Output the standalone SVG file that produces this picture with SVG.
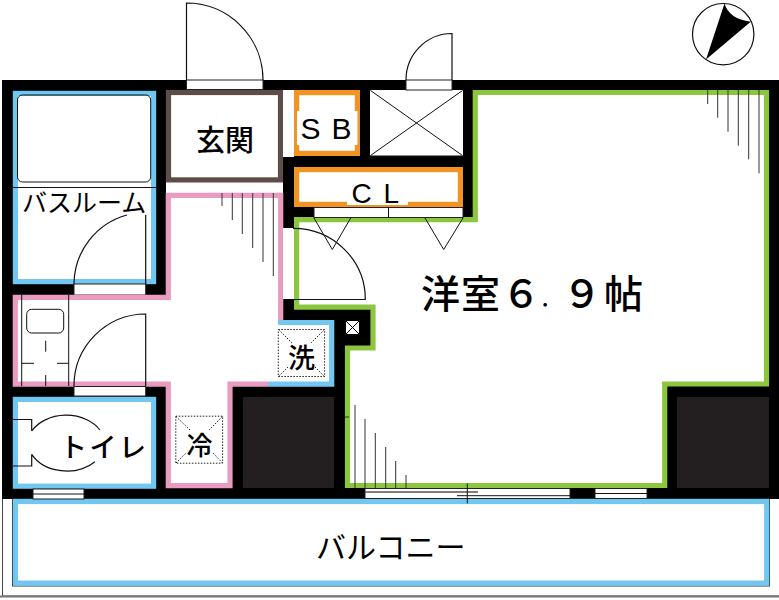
<svg xmlns="http://www.w3.org/2000/svg" width="779" height="600" viewBox="0 0 779 600">
<style>
.t{font-family:"Noto Sans CJK JP","Noto Sans",sans-serif;fill:#000;font-weight:500}
.r{font-weight:400}
.l{font-family:"Liberation Sans",sans-serif;fill:#000}
.thin{fill:none;stroke:#111;stroke-width:1}
.door{fill:none;stroke:#111;stroke-width:1.2}
.win{fill:#fff;stroke:#222;stroke-width:1}
.ray{fill:none;stroke:#333;stroke-width:1}
.w{fill:#fff}
.blue{fill:none;stroke:#71c7f0;stroke-width:5.2}
.pink{fill:none;stroke:#ea9bc0;stroke-width:5.2}
.green{fill:none;stroke:#8cc63f;stroke-width:5.2}
.orange{fill:#fff;stroke:#f39321;stroke-width:5.2}
.dot{fill:#fff;stroke:#222;stroke-width:1;stroke-dasharray:1.5 1.5}
.dl{fill:none;stroke:#222;stroke-width:1;stroke-dasharray:1.5 1.5}
</style>
<rect width="779" height="600" fill="#fff"/>
<g id="outline">
<path d="M2.5,499V596H779" fill="none" stroke="#444" stroke-width="1"/>
<path d="M0,596.5H779" stroke="#777" stroke-width="2"/>
<rect x="2" y="80" width="777" height="419" fill="#000"/>
</g>
<g id="balcony">
<rect x="12.5" y="499" width="757" height="87" fill="#fff" stroke="#234" stroke-width="1"/>
<rect x="15.4" y="501.5" width="751.3" height="81.6" class="blue"/>
<text class="t r" x="316" y="558" font-size="30">バルコニー</text>
</g>
<g id="entrance">
<rect x="166" y="90" width="117" height="103" fill="#fff"/>
<rect x="168.5" y="92.5" width="112" height="87.4" fill="#fff" stroke="#5d4c47" stroke-width="5.2"/>
<text class="t" x="196" y="151" font-size="29">玄関</text>
<rect class="win" x="186.5" y="80" width="76.5" height="9.5"/>
<path class="door" d="M186.5,80V3A76.5,77 0 0 1 263,80"/>
</g>
<g id="bath">
<rect x="15.4" y="93.4" width="138.2" height="188.2" class="w"/>
<rect x="15.4" y="93.4" width="138.2" height="188.2" class="blue"/>
<rect class="thin" x="17.5" y="95" width="133.2" height="87" rx="5"/>
<path class="thin" d="M13,187.5H156"/>
<rect class="win" x="74" y="284" width="71.7" height="11"/>
<path class="door" d="M145.7,215V284M74,284A72,72 0 0 1 127,215"/>
<text class="t r" x="22" y="212" font-size="25">バスルーム</text>
</g>
<g id="hall">
<path d="M15.3,297.3H168.3V195.3H280.7V322.5H331.7V383.9H230V485.7H168.3V384.2H15.3Z" fill="#fff"/>
<path class="pink" d="M268,384.2H230V485.7H168.3V384.2H15.3V297.3H168.3V195.3H280.7V323"/>
<path class="blue" d="M278.1,322.5H331.7V384.2H268"/>
<path class="ray" d="M222,193V206M232.3,193V220M242.3,193V234M252.7,193V248M263,193V262M273.3,193V276"/>
<path class="thin" d="M21.7,295V386M68.7,295V386M45.7,340.7V351.7M45.7,375V386M21.7,363.3H34M57,363.3H68.7"/>
<rect class="thin" x="26.7" y="309.3" width="37" height="23.7" rx="5"/>
<rect class="win" x="74" y="386.5" width="71.7" height="9.5"/>
<path class="door" d="M145.7,386V314A72,72 0 0 0 74,386"/>
<rect class="dot" x="175.8" y="416.2" width="46.8" height="47"/>
<path class="dl" d="M176,416.5L190,430M222.5,416.5L209,430M176,463L186,453M222.5,463L213,453"/>
<text class="t" x="199.5" y="455" font-size="26" text-anchor="middle">冷</text>
<rect class="dot" x="278.3" y="329.5" width="46.3" height="47"/>
<path class="dl" d="M278.5,329.5L292,343M324.5,329.5L311,343M278.5,376.5L288,367M324.5,376.5L315,367"/>
<text class="t" x="301.5" y="368" font-size="27" text-anchor="middle">洗</text>
</g>
<g id="toilet">
<rect x="15.4" y="399.4" width="138.2" height="86.8" class="w"/>
<rect x="15.4" y="399.4" width="138.2" height="86.8" class="blue"/>
<path class="door" d="M13,419.5H31.7V431M31.7,454.3V466H13M31.7,431A40,32 0 0 1 100,430M31.7,454.3A40,32 0 0 0 95,461.7"/>
<rect class="win" x="33" y="489" width="51" height="10"/>
<path class="thin" d="M33,494H84"/>
<text class="t" x="60" y="457" font-size="27" letter-spacing="2.5">トイレ</text>
</g>
<g id="storage-sb">
<rect x="283" y="90" width="11" height="67" fill="#fff"/>
<rect class="orange" x="296.6" y="92.6" width="60.8" height="60.8"/>
<rect x="297" y="111" width="60.5" height="34" fill="#fff"/>
<text class="l" x="300.5" y="138.5" font-size="30" letter-spacing="1.3">S B</text>
</g>
<g id="shaft">
<rect x="370" y="90" width="93" height="66" fill="#fff"/>
<path class="thin" d="M370.5,90.5L462.5,155.5M462.5,90.5L370.5,155.5M370,156H463"/>
<rect class="win" x="406" y="80" width="46" height="10"/>
<path class="door" d="M452,80V33.5A46,46.5 0 0 0 406,80"/>
</g>
<g id="closet">
<rect class="orange" x="296.6" y="169.6" width="163.8" height="34.8"/>
<rect x="347" y="180" width="61" height="25" fill="#fff"/>
<text class="l" x="351.5" y="202.5" font-size="28" letter-spacing="2">C L</text>
</g>
<g id="room">
<path d="M475.3,92.5H766.5V384H664.7V485.5H347.5V348H373V307.2H296.6V219.7H475.3Z" fill="#fff"/>
<path class="green" d="M475.3,92.5H766.5V384H664.7V485.5H347.5V348H373V307.2H296.6V219.7H475.3Z"/>
<rect x="283" y="228" width="11" height="71" fill="#fff"/>
<rect class="win" x="314" y="207.5" width="149" height="10"/>
<path class="thin" d="M388.5,207V218M314,218L332.3,249.5L350.7,218M425,218L443.7,249.5L463,218"/>
<path class="door" d="M293,228.3A72,71 0 0 1 365.3,299.5H293"/>
<path class="ray" d="M707.7,90V104M717.7,90V117.7M728,90V131.7M738.3,90V145.7M748.7,90V159.3M759,90V173.3"/>
<path class="ray" d="M355,405V488M365,419V488M375.3,433V488M385.7,447V488M395.7,461V488M406,475V488M345,417H349"/>
<rect class="win" x="365" y="488.5" width="205" height="10"/>
<path d="M365,492H478" stroke="#555" stroke-width="1.4"/>
<path d="M457,495.7H570" stroke="#111" stroke-width="1"/>
<path d="M467.3,483.5V503.5" stroke="#111" stroke-width="1"/>
<rect class="win" x="595" y="488.5" width="52" height="10"/>
<path d="M595,493.5H647" stroke="#111" stroke-width="1"/>
<rect x="345" y="320" width="15" height="15" fill="#fff"/>
<path d="M345.5,320.5L359.5,334.5M359.5,320.5L345.5,334.5M345.5,320.5H359.5V334.5H345.5Z" fill="none" stroke="#000" stroke-width="1"/>
<text class="t" font-size="39" y="308" x="421 461 501.5"><tspan>洋室６</tspan><tspan font-size="20" x="540" y="307">．</tspan><tspan x="562.5 604" y="308">９帖</tspan></text>
</g>
<g id="pillars">
<rect x="243" y="397" width="91" height="91" fill="#231f20"/>
<rect x="677" y="397" width="92" height="91" fill="#231f20"/>
</g>
<g id="compass">
<circle cx="723.2" cy="34.2" r="30.7" fill="#fff" stroke="#111" stroke-width="1.2"/>
<path d="M724.5,3.5Q729,19 750.7,21.7L706,59.5Z" fill="#000"/>
</g>
</svg>
